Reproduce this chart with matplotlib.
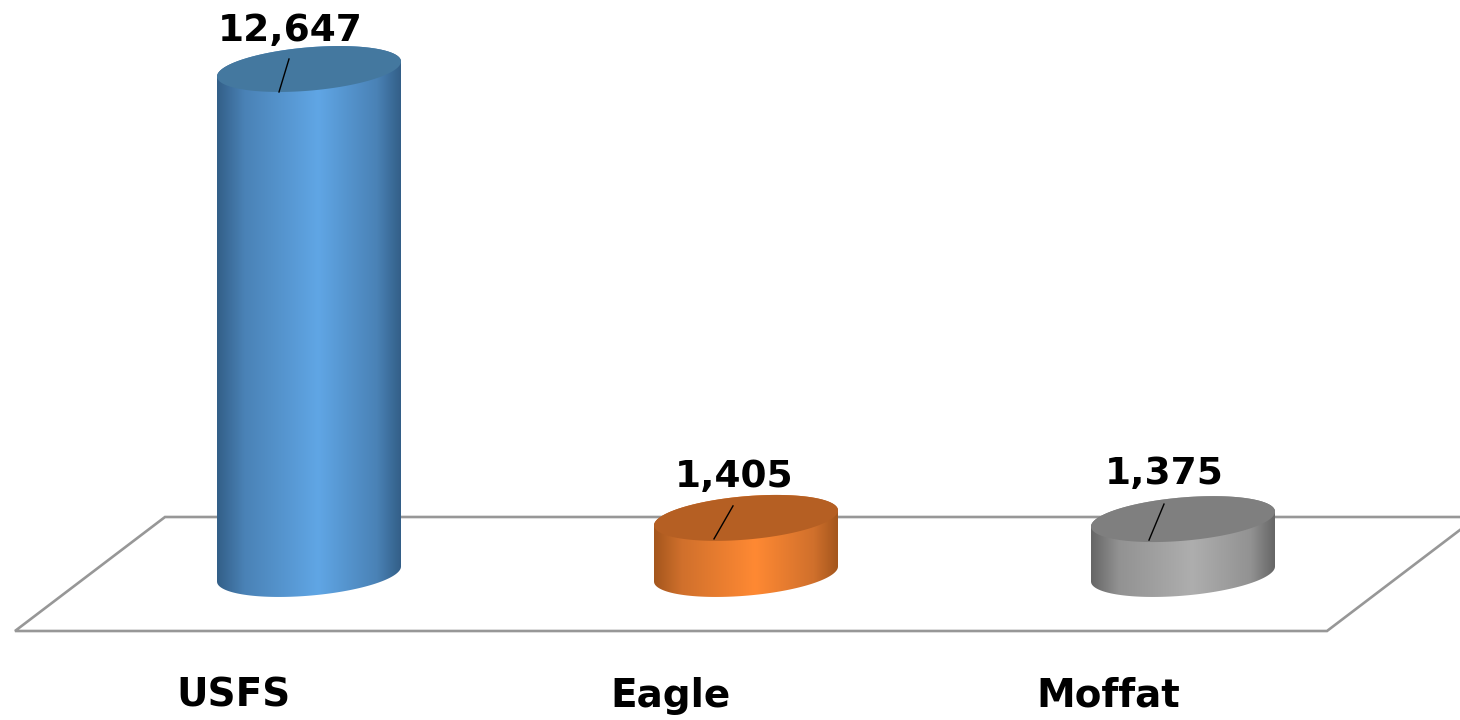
import numpy as np
import matplotlib
matplotlib.use("Agg")
import matplotlib.pyplot as plt
from matplotlib.colors import LinearSegmentedColormap
from matplotlib.patches import Polygon

categories = ["USFS", "Eagle", "Moffat"]
values = [12647, 1405, 1375]
top_colors = ["#44789f", "#b55f23", "#7f7f7f"]
edge_colors = ["#335f88", "#a4561d", "#666666"]
mid_colors = ["#4a82b6", "#d0702c", "#929292"]
light_colors = ["#60a6e5", "#ff8933", "#aeaeae"]

# ---- layout in pixels ----
W, H = 1460, 720
AX_BOTTOM = 60          # room below the axes for the tick labels
PX_PER_CAT = 437.0
PX_PER_VAL = 505.0 / 12647
X0_PX = 309.0           # pixel x of first category
Y0_PX = 574.0           # pixel y of value 0
A, TILT, B = 92.0, 7.5, 21.7   # ellipse half width, tilt, half depth

LABEL_DX = [-19, -12, -19]
LABEL_DY = [20, 23, 27]
LEADER = [(-30, -23, -20, 10), (-32, -21, -13, 12), (-34, -21, -19, 15)]


def px_x(px):
    return (px - X0_PX) / PX_PER_CAT


def px_y(px):
    return (Y0_PX - px) / PX_PER_VAL


fig = plt.figure(figsize=(W / 100, H / 100), dpi=100)
ax = fig.add_axes([0, AX_BOTTOM / H, 1, 1 - AX_BOTTOM / H])

# floor
floor_x = [15, 165, 1477, 1327]
floor_y = [631, 517, 517, 631]
ax.add_patch(Polygon(list(zip(map(px_x, floor_x), map(px_y, floor_y))), closed=True,
                     facecolor="white", edgecolor="#979797", linewidth=1.9, zorder=1))

for i, val in enumerate(values):
    # cylinder outline, in data units around the category
    t_front = np.linspace(np.pi, 2 * np.pi, 80)
    t_back = np.linspace(0, np.pi, 80)
    front_x = i + A * np.cos(t_front) / PX_PER_CAT
    front_y = (TILT * np.cos(t_front) + B * np.sin(t_front)) / PX_PER_VAL
    back_x = i + A * np.cos(t_back) / PX_PER_CAT
    back_y = val + (TILT * np.cos(t_back) + B * np.sin(t_back)) / PX_PER_VAL

    body = Polygon(np.column_stack([np.r_[front_x, back_x], np.r_[front_y, back_y]]),
                   closed=True, facecolor="none", edgecolor="none", transform=ax.transData)
    ax.add_patch(body)

    cmap = LinearSegmentedColormap.from_list(
        "side_%d" % i,
        [(0, edge_colors[i]), (0.15, mid_colors[i]), (0.55, light_colors[i]),
         (0.87, mid_colors[i]), (1, edge_colors[i])])
    half = A / PX_PER_CAT
    img = ax.imshow(np.linspace(0, 1, 256).reshape(1, -1), cmap=cmap, aspect="auto",
                    extent=[i - half, i + half, px_y(600), px_y(40)], zorder=2)
    img.set_clip_path(body)

    # top face
    t = np.linspace(0, 2 * np.pi, 160)
    ax.fill(i + A * np.cos(t) / PX_PER_CAT,
            val + (TILT * np.cos(t) + B * np.sin(t)) / PX_PER_VAL,
            color=top_colors[i], linewidth=0, zorder=3)

    # leader line and value label
    x1, y1, x2, y2 = LEADER[i]
    ax.plot([i + x1 / PX_PER_CAT, i + x2 / PX_PER_CAT],
            [val + y1 / PX_PER_VAL, val + y2 / PX_PER_VAL],
            color="black", linewidth=1.0, zorder=4)
    ax.text(i + LABEL_DX[i] / PX_PER_CAT, val + LABEL_DY[i] / PX_PER_VAL, f"{val:,}",
            ha="center", va="bottom", fontsize=27, fontweight="bold",
            family="DejaVu Sans", color="black", zorder=5)

ax.set_xlim(px_x(0), px_x(W))
ax.set_ylim(px_y(H - AX_BOTTOM), px_y(0))
ax.set_yticks([])
ax.set_xticks([i - 75 / PX_PER_CAT for i in range(len(categories))])
ax.set_xticklabels(categories, fontsize=28, fontweight="bold", family="DejaVu Sans")
ax.tick_params(axis="x", length=0, pad=12)
for side in ax.spines.values():
    side.set_visible(False)

fig.savefig("out.png", dpi=100)
